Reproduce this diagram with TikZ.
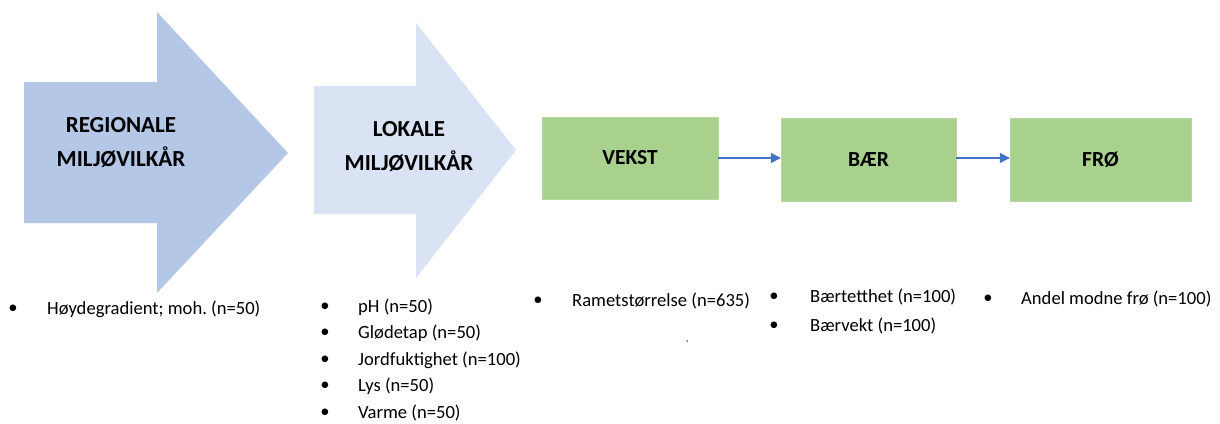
\documentclass[tikz,border=0pt]{standalone}
\usepackage{fontspec}
\setmainfont{Carlito}
\usetikzlibrary{arrows.meta}
\definecolor{regblue}{HTML}{B4C7E7}
\definecolor{lokblue}{HTML}{DAE3F3}
\definecolor{boxgreen}{HTML}{A9D18E}
\definecolor{linkblue}{HTML}{4472C4}
\tikzset{
  title/.style={align=center,font=\bfseries\fontsize{23}{34}\selectfont,inner sep=0pt},
  stage/.style={fill=boxgreen,draw=boxgreen!85!white,minimum width=176pt,minimum height=82pt,inner sep=0pt,font=\bfseries\fontsize{21.5}{24}\selectfont},
  link/.style={draw=linkblue,line width=1.4pt,-{Triangle[length=10pt,width=10pt]}},
  item/.style={anchor=west,inner sep=0pt,font=\fontsize{18.6}{22}\selectfont},
  bul/.style={anchor=center,inner sep=0pt,font=\fontsize{18.6}{22}\selectfont}
}
\frenchspacing
\begin{document}
\begin{tikzpicture}[x=1pt,y=-1pt]
\useasboundingbox (0,0) rectangle (1220,423);
\fill[white] (0,0) rectangle (1220,423);
% big arrows
\fill[regblue] (24,82) -- (157,82) -- (157,12) -- (288,153) -- (157,293) -- (157,223) -- (24,223) -- cycle;
\node[title] (regtxt) at (121,143) {REGIONALE\\MILJØVILKÅR};
\fill[lokblue] (314,86) -- (416,86) -- (416,23) -- (516,150) -- (416,278) -- (416,214) -- (314,214) -- cycle;
\node[title] (loktxt) at (409,146.5) {LOKALE\\MILJØVILKÅR};
% stages
\node[stage,minimum width=176pt] (vekst) at (630,158) {VEKST};
\node[stage,minimum width=175pt,minimum height=83pt] (baer) at (868.5,159.5) {BÆR};
\node[stage,minimum width=181pt,minimum height=83pt] (fro) at (1100.5,159.5) {FRØ};
\draw[link] (vekst.east) -- (vekst.east -| baer.west);
\draw[link] ([yshift=1.5pt]baer.east) -- ([yshift=1.5pt]baer.east -| fro.west);
% lists
\node[bul] (b1) at (13,309) {•};
\node[item] (t1) at (47,309) {Høydegradient; moh. (n=50)};
\node[bul] (b2) at (325,307) {•};
\node[item] (t2) at (358,307) {pH (n=50)};
\node[bul] (b3) at (325,333.5) {•};
\node[item] (t3) at (358,333.5) {Glødetap (n=50)};
\node[bul] (b4) at (325,360) {•};
\node[item] (t4) at (358,360) {Jordfuktighet (n=100)};
\node[bul] (b5) at (325,386.5) {•};
\node[item] (t5) at (358,386.5) {Lys (n=50)};
\node[bul] (b6) at (325,413) {•};
\node[item] (t6) at (358,413) {Varme (n=50)};
\node[bul] (b7) at (538,301) {•};
\node[item] (t7) at (572,301) {Rametstørrelse (n=635)};
\node[bul] (b8) at (774,297) {•};
\node[item] (t8) at (810,297) {Bærtetthet (n=100)};
\node[bul] (b9) at (774,326) {•};
\node[item] (t9) at (810,326) {Bærvekt (n=100)};
\node[bul] (b10) at (988,299) {•};
\node[item] (t10) at (1021,299) {Andel modne frø (n=100)};
\fill[linkblue] (687,341) circle (1pt);
\end{tikzpicture}
\end{document}
